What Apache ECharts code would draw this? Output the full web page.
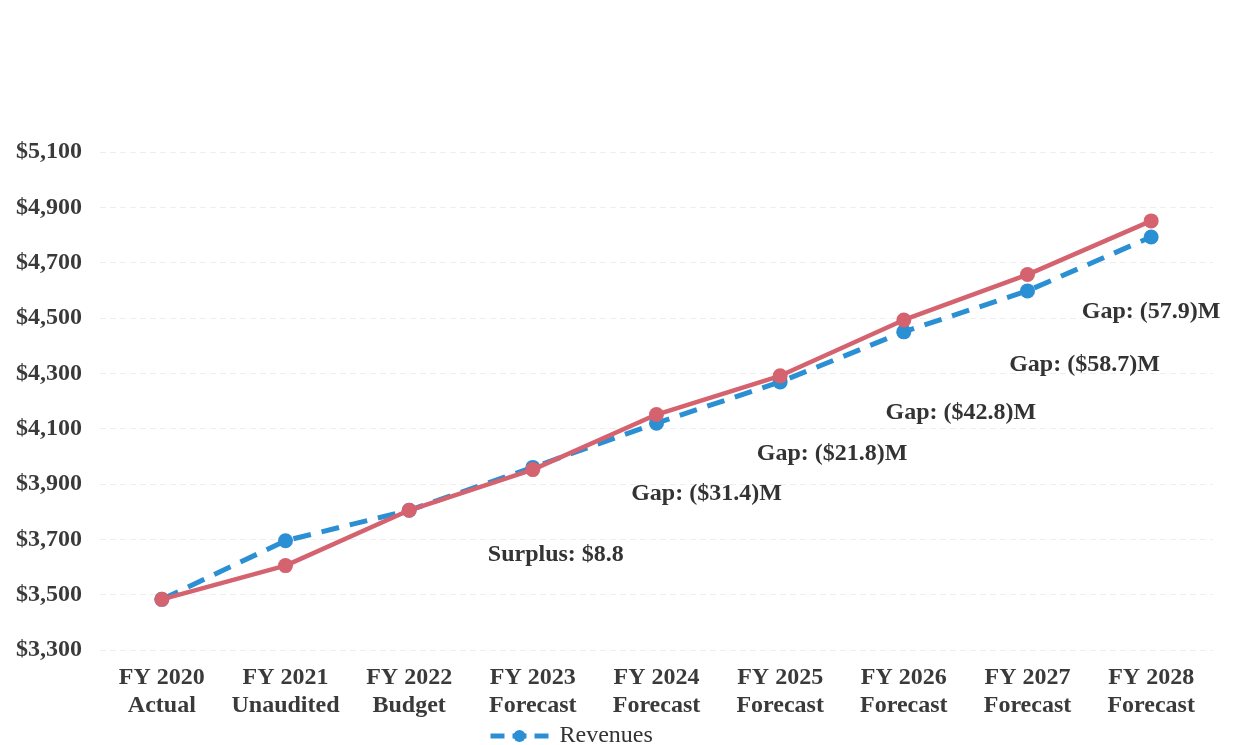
<!DOCTYPE html>
<html>
<head>
<meta charset="utf-8">
<script src="https://cdn.jsdelivr.net/npm/echarts@6/dist/echarts.min.js"></script>
<style>
  html, body { margin: 0; padding: 0; background: #fff; }
  #chart { width: 1244px; height: 745px; }
</style>
</head>
<body>
<div id="chart"></div>
<script>
'use strict';

// categories
var years = ['FY 2020', 'FY 2021', 'FY 2022', 'FY 2023', 'FY 2024', 'FY 2025', 'FY 2026', 'FY 2027', 'FY 2028'];
var stages = ['Actual', 'Unaudited', 'Budget', 'Forecast', 'Forecast', 'Forecast', 'Forecast', 'Forecast', 'Forecast'];

// series values ($M)
var revenues = [3483, 3695, 3805, 3960, 4120, 4269, 4450, 4598, 4793];
var expenditures = [3483, 3605, 3805, 3952, 4151, 4291, 4493, 4657, 4851];

// y tick labels
var yTicks = [3300, 3500, 3700, 3900, 4100, 4300, 4500, 4700, 4900, 5100];

// gap / surplus notes: text, category index, value level, x shift
var noteTexts = ['Surplus: $8.8', 'Gap: ($31.4)M', 'Gap: ($21.8)M', 'Gap: ($42.8)M', 'Gap: ($58.7)M', 'Gap: (57.9)M'];
var noteCats = [3, 4, 5, 6, 7, 8];
var noteLevels = [3645, 3865, 4010, 4158, 4331, 4523];
var noteShift = [23, 50, 52, 57, 57, 0];

var serif = '"Liberation Serif", "DejaVu Serif", serif';

var myChart = echarts.init(document.getElementById('chart'));

var notes = noteTexts.map(function (t, i) {
    return {
        coord: [noteCats[i], noteLevels[i]],
        value: t,
        label: { offset: [noteShift[i], 0] }
    };
});

var option = {
    backgroundColor: '#ffffff',
    animation: false,
    grid: {
        left: 100,
        right: 31,
        top: 152,
        bottom: 95
    },
    legend: {
        data: ['Revenues'],
        left: 483,
        top: 719,
        itemWidth: 58,
        itemHeight: 15,
        lineStyle: { width: 5, type: [14, 8] },
        textStyle: {
            fontFamily: serif,
            fontSize: 24,
            color: '#333',
            padding: [0, 0, 0, 6]
        }
    },
    xAxis: {
        type: 'category',
        boundaryGap: true,
        data: years,
        axisLine: { show: false },
        axisTick: { show: false },
        axisLabel: {
            interval: 0,
            margin: 14,
            fontFamily: serif,
            fontWeight: 'bold',
            fontSize: 24,
            lineHeight: 28,
            color: '#3a3a3a',
            formatter: function (v, i) {
                return v + '\n' + stages[i];
            }
        }
    },
    yAxis: {
        type: 'value',
        min: 3300,
        max: 5100,
        axisLine: { show: false },
        axisTick: { show: false, customValues: yTicks },
        axisLabel: {
            customValues: yTicks,
            margin: 18,
            fontFamily: serif,
            fontWeight: 'bold',
            fontSize: 24,
            color: '#3a3a3a',
            formatter: function (v) {
                return '$' + v.toLocaleString('en-US');
            }
        },
        splitLine: {
            show: true,
            lineStyle: { color: '#eeeeee', width: 1, type: [6, 4] }
        }
    },
    series: [
        {
            name: 'Revenues',
            type: 'line',
            data: revenues,
            symbol: 'circle',
            symbolSize: 15,
            color: '#2b8fd3',
            lineStyle: { width: 5, type: [18, 11], color: '#2b8fd3' },
            itemStyle: { color: '#2b8fd3' },
            z: 2
        },
        {
            name: 'Expenditures',
            type: 'line',
            data: expenditures,
            symbol: 'circle',
            symbolSize: 15,
            color: '#d5626f',
            lineStyle: { width: 4.5, color: '#d5626f' },
            itemStyle: { color: '#d5626f' },
            z: 3,
            markPoint: {
                symbol: 'circle',
                symbolSize: 0,
                label: {
                    show: true,
                    position: 'inside',
                    formatter: '{c}',
                    fontFamily: serif,
                    fontWeight: 'bold',
                    fontSize: 24,
                    color: '#333'
                },
                data: notes
            }
        }
    ]
};

myChart.setOption(option);
</script>
</body>
</html>
